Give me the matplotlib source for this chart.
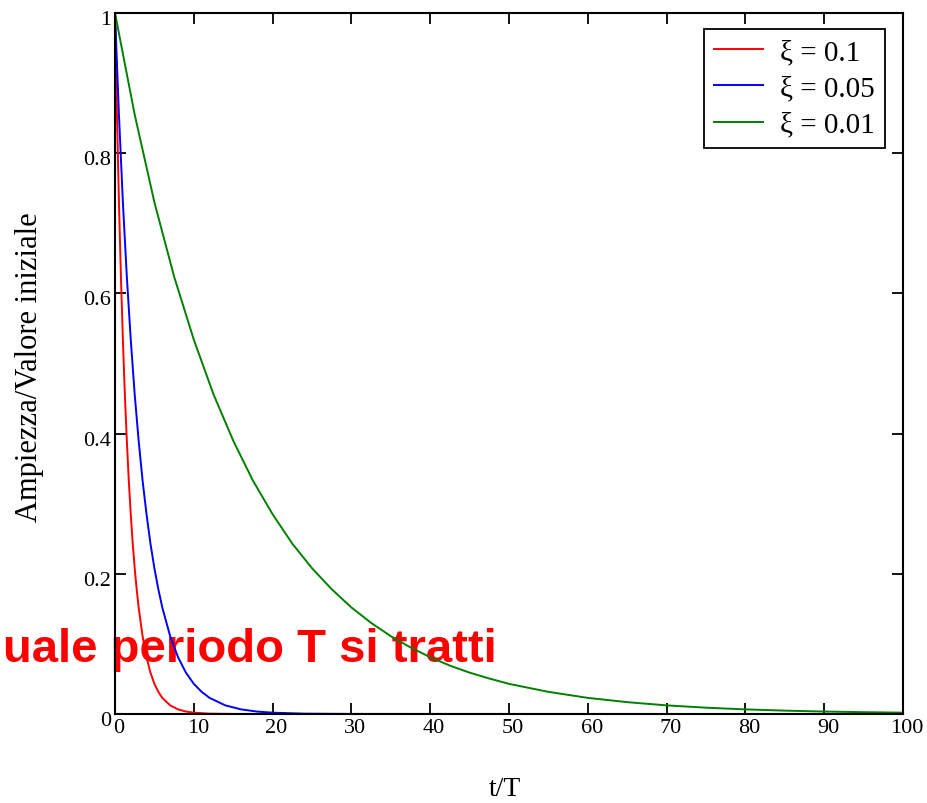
import matplotlib.pyplot as plt
import matplotlib.transforms as mtransforms

# valori
t_01 = [0, 0.25, 0.5, 0.75, 1, 1.25, 1.5, 1.75, 2, 2.25, 2.5, 2.75, 3, 3.5, 4,
        4.5, 5, 5.5, 6, 7, 8, 9, 10, 12, 15, 20, 100]
y_01 = [1, 0.855, 0.73, 0.624, 0.534, 0.456, 0.39, 0.333, 0.285, 0.243, 0.208,
        0.178, 0.152, 0.111, 0.081, 0.059, 0.043, 0.0316, 0.023, 0.0123, 0.0066,
        0.0035, 0.0019, 0.0005, 0.0001, 0.0, 0.0]

t_005 = [0, 0.5, 1, 1.5, 2, 2.5, 3, 3.5, 4, 4.5, 5, 5.5, 6, 7, 8, 9, 10, 11, 12,
         14, 16, 18, 20, 24, 30, 100]
y_005 = [1, 0.855, 0.73, 0.624, 0.534, 0.456, 0.39, 0.333, 0.285, 0.243, 0.208,
         0.178, 0.152, 0.111, 0.081, 0.059, 0.043, 0.0316, 0.023, 0.0123, 0.0066,
         0.0035, 0.0019, 0.0005, 0.0001, 0.0]

t_001 = [0, 2.5, 5, 7.5, 10, 12.5, 15, 17.5, 20, 22.5, 25, 27.5, 30, 32.5, 35,
         37.5, 40, 42.5, 45, 47.5, 50, 55, 60, 65, 70, 75, 80, 85, 90, 95, 100]
y_001 = [1, 0.855, 0.73, 0.624, 0.534, 0.456, 0.39, 0.333, 0.285, 0.243, 0.208,
         0.178, 0.152, 0.13, 0.111, 0.095, 0.081, 0.069, 0.059, 0.0506, 0.043,
         0.0316, 0.023, 0.0169, 0.0123, 0.009, 0.0066, 0.0048, 0.0035, 0.0026,
         0.0019]

labels = ["ξ = 0.1", "ξ = 0.05", "ξ = 0.01"]
x_ticks = [0, 10, 20, 30, 40, 50, 60, 70, 80, 90, 100]
y_ticks = [0, 0.2, 0.4, 0.6, 0.8, 1]
y_ticklabels = ["0", "0.2", "0.4", "0.6", "0.8", "1"]

plt.rcParams['font.family'] = ['Liberation Serif', 'DejaVu Serif']

fig = plt.figure(figsize=(9.28, 8.04), dpi=100)
ax = fig.add_axes([115 / 928, 1 - 715 / 804, 788 / 928, 701 / 804])
ax.patch.set_alpha(0)

ax.plot(t_01, y_01, color="#ff0000", lw=1.4, label=labels[0])
ax.plot(t_005, y_005, color="#0000ff", lw=1.4, label=labels[1])
ax.plot(t_001, y_001, color="#008000", lw=1.4, label=labels[2])

ax.set_xlim(0, 100)
ax.set_ylim(0, 1)
ax.set_xticks(x_ticks)
ax.set_yticks(y_ticks)
ax.set_yticklabels(y_ticklabels)
ax.tick_params(direction="in", length=8, width=1.3, top=True, right=True,
               labelsize=16, pad=3, colors="black")
for s in ax.spines.values():
    s.set_linewidth(1.5)

# spostamento leggero delle etichette come nell'originale
off_x = mtransforms.ScaledTranslation(4 / 100, 0, fig.dpi_scale_trans)
for lab in ax.get_xticklabels():
    lab.set_transform(lab.get_transform() + off_x)
off_y = mtransforms.ScaledTranslation(0, -4 / 100, fig.dpi_scale_trans)
for lab in ax.get_yticklabels():
    lab.set_transform(lab.get_transform() + off_y)

leg = ax.legend(loc="upper right", bbox_to_anchor=(885 / 928, 1 - 30 / 804),
                bbox_transform=fig.transFigure, borderaxespad=0, fancybox=False,
                edgecolor="black", framealpha=1, fontsize=21, handlelength=1.65,
                handletextpad=0.6, borderpad=0.35, labelspacing=0.33)
leg.get_frame().set_linewidth(1.3)

fig.text(30 / 928, 1 - 367 / 804, "Ampiezza/Valore iniziale", rotation=90,
         ha="center", va="center", fontsize=22)
fig.text(505 / 928, 1 - 790 / 804, "t/T", ha="center", va="center", fontsize=20)

# testo sovrapposto, dietro le curve
fig.text(3 / 928, 1 - 662 / 804, "uale periodo T si tratti", color="#ff0000",
         fontsize=34, fontweight="bold", family=["Liberation Sans", "DejaVu Sans"],
         ha="left", va="baseline", zorder=-1)

fig.savefig("out.png", dpi=100)
